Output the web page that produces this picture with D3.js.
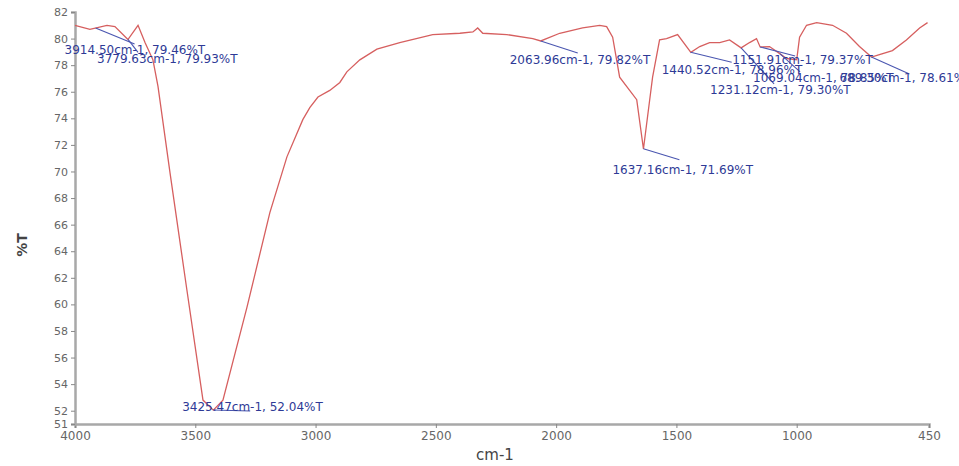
<!DOCTYPE html>
<html>
<head>
<meta charset="utf-8">
<script src="https://cdn.jsdelivr.net/npm/d3@7"></script>
<style>
  body { margin: 0; background: #fff; }
  svg { display: block; }
</style>
</head>
<body>
<svg id="chart" width="959" height="466"></svg>
<script>
const width = 959;
const height = 466;
const margin = { top: 12, right: 30, bottom: 42, left: 75 };

// Spectrum (wavenumber, %T)
const wavenumbers = [4000, 3938, 3867, 3834, 3780, 3738, 3709, 3676, 3655, 3605, 3535, 3468, 3425, 3385,
  3285, 3190, 3119, 3053, 3024, 2990, 2941, 2899, 2870, 2816, 2745, 2650, 2513, 2400, 2346, 2326, 2305,
  2205, 2097, 2064, 1985, 1890, 1819, 1790, 1765, 1736, 1665, 1637, 1611, 1599, 1570, 1541, 1495, 1440,
  1403, 1362, 1320, 1279, 1231, 1196, 1167, 1152, 1113, 1069, 1042, 1000, 988, 959, 917, 851, 793, 739,
  689, 656, 602, 544, 489, 456];
const transmittance = [81.0, 80.7, 81.0, 80.9, 79.93, 81.0, 79.7, 78.4, 76.4, 69.9, 61.1, 52.8, 52.04, 52.8,
  59.8, 66.9, 71.1, 73.9, 74.8, 75.6, 76.1, 76.7, 77.5, 78.4, 79.2, 79.7, 80.3, 80.4, 80.5, 80.8, 80.4,
  80.3, 80.0, 79.82, 80.4, 80.8, 81.0, 80.9, 80.1, 77.1, 75.4, 71.69, 75.4, 77.1, 79.9, 80.0, 80.3, 78.96,
  79.4, 79.7, 79.7, 79.9, 79.30, 79.7, 80.0, 79.37, 79.4, 78.85, 78.5, 78.4, 80.1, 81.0, 81.2, 81.0, 80.4, 79.4,
  78.61, 78.8, 79.1, 79.9, 80.8, 81.2];

// Peak picks shown as labels
const peakWn = [3914.50, 3779.63, 3425.47, 2063.96, 1637.16, 1440.52, 1231.12, 1151.91, 1069.04, 689.30];
const peakT = [79.46, 79.93, 52.04, 79.82, 71.69, 78.96, 79.30, 79.37, 78.85, 78.61];

// Ticks
const xTicks = [4000, 3500, 3000, 2500, 2000, 1500, 1000, 450];
const yTicks = [51, 52, 54, 56, 58, 60, 62, 64, 66, 68, 70, 72, 74, 76, 78, 80, 82];

// label placement relative to the curve point: leader end (lx, ly), text start (tx, ty)
const labelLayout = [
  { lx: 39, ly: 16, tx: -31, ty: 26 },
  { lx: 10, ly: 13, tx: -31, ty: 24 },
  { lx: 37, ly: 1, tx: -31, ty: 1 },
  { lx: 37, ly: 12, tx: -31, ty: 23 },
  { lx: 36, ly: 11, tx: -31, ty: 25 },
  { lx: 41, ly: 10, tx: -29, ty: 22 },
  { lx: 33, ly: 36, tx: -31, ty: 46 },
  { lx: 35, ly: 9, tx: -28, ty: 17 },
  { lx: 20, ly: 18, tx: -27, ty: 28 },
  { lx: 38, ly: 17, tx: -32, ty: 25 }
];

const data = wavenumbers.map((w, i) => ({ wn: w, t: transmittance[i] }));

const svg = d3.select("#chart");

const xScale = d3.scaleLinear()
  .domain([4000, 450])
  .range([margin.left, width - margin.right]);

const yScale = d3.scaleLinear()
  .domain([51, 82])
  .range([height - margin.bottom, margin.top]);

// curve value at a wavenumber (for leader start)
function curveAt(wn) {
  for (let i = 0; i < data.length - 1; i++) {
    const a = data[i], b = data[i + 1];
    if (wn <= a.wn && wn >= b.wn) {
      const f = (a.wn - wn) / (a.wn - b.wn);
      return a.t + f * (b.t - a.t);
    }
  }
  return data[data.length - 1].t;
}

// Axes
const xAxis = d3.axisBottom(xScale).tickValues(xTicks).tickFormat(d3.format("d")).tickSize(4).tickPadding(3);
const yAxis = d3.axisLeft(yScale).tickValues(yTicks).tickFormat(d3.format("d")).tickSize(4).tickPadding(3);

const gx = svg.append("g")
  .attr("transform", "translate(0," + (height - margin.bottom) + ")")
  .call(xAxis);

const gy = svg.append("g")
  .attr("transform", "translate(" + margin.left + ",0)")
  .call(yAxis);

[gx, gy].forEach((g) => {
  g.select(".domain").attr("stroke", "#a8a8a8").attr("stroke-width", 2.5);
  g.selectAll(".tick line").attr("stroke", "#888");
  g.selectAll(".tick text")
    .attr("fill", "#666")
    .style("font-family", "'DejaVu Sans', sans-serif");
});
gx.selectAll(".tick text").style("font-size", "12px");
gy.selectAll(".tick text").style("font-size", "11px");

// Axis titles
svg.append("text")
  .attr("x", 495)
  .attr("y", 460)
  .attr("text-anchor", "middle")
  .attr("fill", "#444")
  .style("font-family", "'DejaVu Sans', sans-serif")
  .style("font-size", "15px")
  .text("cm-1");

svg.append("text")
  .attr("transform", "translate(27,245) rotate(-90)")
  .attr("text-anchor", "middle")
  .attr("fill", "#444")
  .style("font-family", "'DejaVu Sans', sans-serif")
  .style("font-size", "14px")
  .style("font-weight", "bold")
  .text("%T");

// Spectrum line
const line = d3.line()
  .x((d) => xScale(d.wn))
  .y((d) => yScale(d.t));

svg.append("path")
  .datum(data)
  .attr("fill", "none")
  .attr("stroke", "#d65f5f")
  .attr("stroke-width", 1.3)
  .attr("d", line);

// Peak labels
const peaks = peakWn.map((w, i) => ({ wn: w, t: peakT[i], lay: labelLayout[i] }));

svg.selectAll(".leader")
  .data(peaks)
  .enter()
  .append("line")
  .attr("class", "leader")
  .attr("x1", (d) => xScale(d.wn))
  .attr("y1", (d) => yScale(curveAt(d.wn)))
  .attr("x2", (d) => xScale(d.wn) + d.lay.lx)
  .attr("y2", (d) => yScale(curveAt(d.wn)) + d.lay.ly)
  .attr("stroke", "#4a56b0")
  .attr("stroke-width", 1.1);

svg.selectAll(".peak-label")
  .data(peaks)
  .enter()
  .append("text")
  .attr("class", "peak-label")
  .attr("x", (d) => xScale(d.wn) + d.lay.tx)
  .attr("y", (d) => yScale(curveAt(d.wn)) + d.lay.ty)
  .attr("fill", "#2e3a96")
  .style("font-family", "'DejaVu Sans', sans-serif")
  .style("font-size", "12px")
  .text((d) => d.wn.toFixed(2) + "cm-1, " + d.t.toFixed(2) + "%T");
</script>
</body>
</html>
